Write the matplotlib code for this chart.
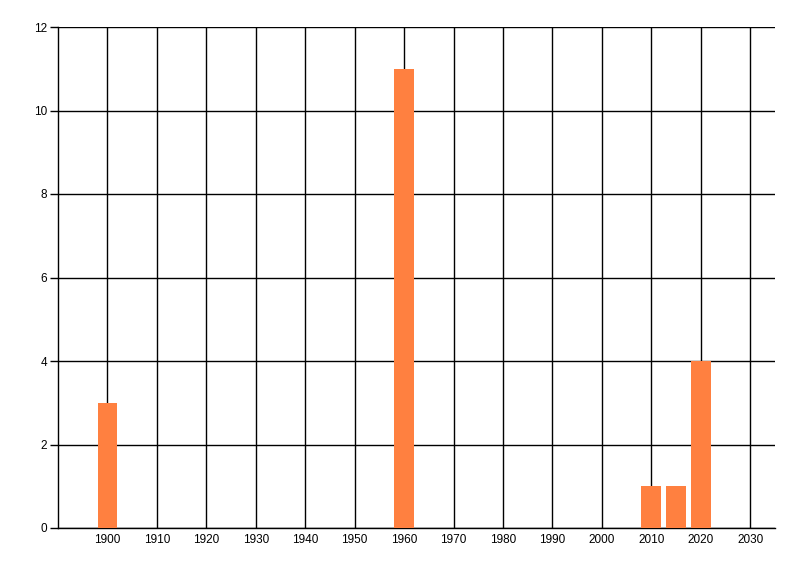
import matplotlib.pyplot as plt

# data
years = [1900, 1960, 2010, 2015, 2020]
counts = [3, 11, 1, 1, 4]
x_ticks = list(range(1900, 2031, 10))
y_ticks = [0, 2, 4, 6, 8, 10, 12]

plt.rcParams['font.family'] = ['Liberation Sans', 'DejaVu Sans']

fig = plt.figure(figsize=(8, 5.76), dpi=100)
ax = fig.add_axes([58 / 800, 1 - 528 / 576, (775 - 58) / 800, (528 - 27) / 576])

ax.bar(years, counts, width=4, color='#FF8040', zorder=3)

ax.set_xlim(1890, 2035)
ax.set_ylim(0, 12)
ax.set_xticks(x_ticks)
ax.set_yticks(y_ticks)
ax.grid(True, color='black', linewidth=1)
ax.set_axisbelow(True)

for side in ['top', 'right']:
  ax.spines[side].set_visible(False)
for side in ['left', 'bottom']:
  ax.spines[side].set_linewidth(1)

ax.tick_params(axis='x', length=0, pad=4, labelsize=8.5)
ax.tick_params(axis='y', length=6, width=1, pad=2, labelsize=8.5)

fig.savefig('out.png', dpi=100)
